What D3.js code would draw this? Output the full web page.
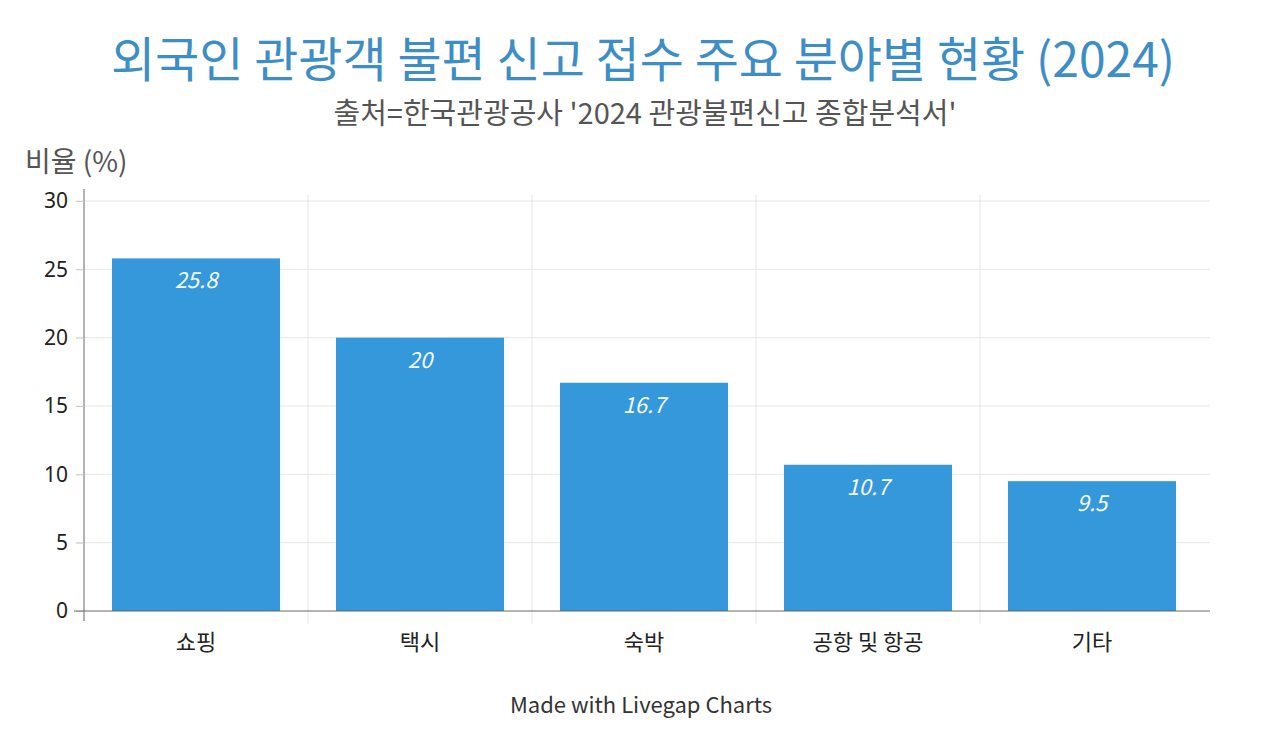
<!DOCTYPE html>
<html>
<head>
<meta charset="utf-8">
<script src="https://cdn.jsdelivr.net/npm/d3@7"></script>
<style>
  body { margin: 0; background: #fff; }
  svg { display: block; font-family: "Noto Sans CJK KR", "Noto Sans", sans-serif; }
</style>
</head>
<body>
<div id="chart"></div>
<script>
const categories = ["쇼핑", "택시", "숙박", "공항 및 항공", "기타"];
const values = [25.8, 20, 16.7, 10.7, 9.5];
const yTicks = [0, 5, 10, 15, 20, 25, 30];

const width = 1285, height = 739;
const margin = { top: 201, right: 81, bottom: 128, left: 84 };
const innerWidth = width - margin.left - margin.right;
const innerHeight = height - margin.top - margin.bottom;

const svg = d3.select("#chart").append("svg")
    .attr("width", width).attr("height", height);

// Titoli
svg.append("text").attr("x", 643).attr("y", 77).attr("text-anchor", "middle")
    .style("font-size", "48px").style("fill", "#3d8ec4")
    .text("외국인 관광객 불편 신고 접수 주요 분야별 현황 (2024)");
svg.append("text").attr("x", 645).attr("y", 124).attr("text-anchor", "middle")
    .style("font-size", "29px").style("fill", "#555")
    .text("출처=한국관광공사 '2024 관광불편신고 종합분석서'");
svg.append("text").attr("x", 25).attr("y", 172)
    .style("font-size", "28px").style("fill", "#555")
    .text("비율 (%)");
svg.append("text").attr("x", 641).attr("y", 713).attr("text-anchor", "middle")
    .style("font-size", "22px").style("fill", "#333")
    .text("Made with Livegap Charts");

const g = svg.append("g").attr("transform", `translate(${margin.left},${margin.top})`);

const x = d3.scaleBand().domain(categories).range([0, innerWidth]).paddingInner(0.25).paddingOuter(0.125);
const y = d3.scaleLinear().domain([0, 30]).range([innerHeight, 0]);

// Griglia
g.append("g").selectAll("line").data(yTicks.slice(1)).join("line")
    .attr("x1", -8).attr("x2", innerWidth + 6)
    .attr("y1", d => y(d)).attr("y2", d => y(d))
    .attr("stroke", "#e6e6e6").attr("stroke-width", 1);
g.append("g").selectAll("line").data(categories.slice(1)).join("line")
    .attr("x1", d => x(d) - x.bandwidth() * 0.1667).attr("x2", d => x(d) - x.bandwidth() * 0.1667)
    .attr("y1", -6).attr("y2", innerHeight + 12)
    .attr("stroke", "#e6e6e6").attr("stroke-width", 1);

// Barre
g.selectAll("rect").data(values).join("rect")
    .attr("x", (d, i) => x(categories[i]))
    .attr("y", d => y(d))
    .attr("width", x.bandwidth())
    .attr("height", d => innerHeight - y(d))
    .attr("fill", "#3498db");

// Etichette valori
g.selectAll(".val").data(values).join("text").attr("class", "val")
    .attr("x", (d, i) => x(categories[i]) + x.bandwidth() / 2)
    .attr("y", d => y(d) + 30)
    .attr("text-anchor", "middle")
    .style("font-size", "22px").style("font-style", "italic").style("fill", "#f4f8ff")
    .text(d => d);

// Assi
const yAxis = g.append("g").call(d3.axisLeft(y).tickValues(yTicks).tickSize(8).tickPadding(8));
yAxis.select(".domain").attr("d", `M0,-12V${innerHeight + 10}`).attr("stroke", "#666");
yAxis.selectAll(".tick line").attr("stroke", "#ccc");
yAxis.selectAll("text").style("font-size", "21px").style("fill", "#222")
    .style("font-family", "'Noto Sans', sans-serif");

const xAxis = g.append("g").attr("transform", `translate(0,${innerHeight})`)
    .call(d3.axisBottom(x).tickSize(0).tickPadding(23));
xAxis.select(".domain").attr("d", `M-10,0H${innerWidth + 6}`).attr("stroke", "#666");
xAxis.selectAll("text").style("font-size", "22px").style("fill", "#222")
    .style("font-family", "'Noto Sans CJK KR', sans-serif");
</script>
</body>
</html>
